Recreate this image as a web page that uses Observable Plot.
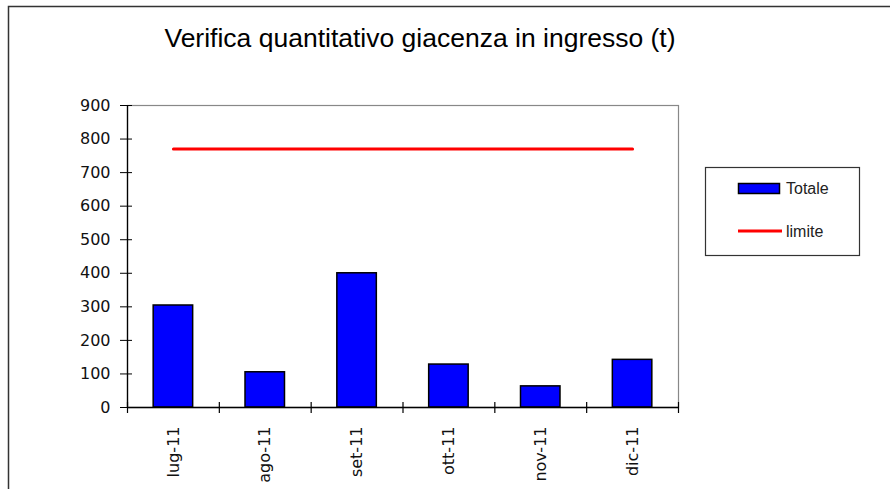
<!DOCTYPE html>
<html>
<head>
<meta charset="utf-8">
<script src="https://cdn.jsdelivr.net/npm/d3@7"></script>
<script src="https://cdn.jsdelivr.net/npm/@observablehq/plot@0.6"></script>
<style>
  html, body { margin: 0; padding: 0; background: #fff; }
  svg { display: block; }
</style>
</head>
<body>
<div id="chart"></div>
<script>
const months = ["lug-11", "ago-11", "set-11", "ott-11", "nov-11", "dic-11"];
const totale = [304, 105, 400, 128, 63, 142];
const limite = [770, 770, 770, 770, 770, 770];
const yTicks = [0, 100, 200, 300, 400, 500, 600, 700, 800, 900];
const titleText = "Verifica quantitativo giacenza in ingresso (t)";
const legendLabels = ["Totale", "limite"];

const W = 890, H = 489;
const ML = 127, MR = 212, MT = 105, MB = 82;
const step = (W - ML - MR) / months.length;

const data = months.map((m, i) => ({ month: m, totale: totale[i], limite: limite[i] }));

const chart = Plot.plot({
  width: W,
  height: H,
  marginLeft: ML,
  marginRight: MR,
  marginTop: MT,
  marginBottom: MB,
  style: { fontFamily: "DejaVu Sans", fontSize: "16px", color: "#111", background: "white", overflow: "visible" },
  x: { type: "band", domain: months, paddingInner: 0.57, paddingOuter: 0.285, round: false, label: null },
  y: { domain: [0, 900], label: null },
  marks: [
    Plot.frame({ stroke: "#888", strokeWidth: 1.2 }),
    Plot.barY(data, { x: "month", y: "totale", fill: "#0000ff", stroke: "black", strokeWidth: 1.5 }),
    Plot.lineY(data, { x: "month", y: "limite", stroke: "#ff0000", strokeWidth: 3 }),
    Plot.ruleY([0], { stroke: "black", strokeWidth: 1.3 }),
    Plot.ruleX([months[0]], { dx: -step / 2, stroke: "black", strokeWidth: 1.3 }),
    Plot.ruleX(months, { dx: -step / 2, y1: 0, y2: 0, insetTop: -5, insetBottom: -6, stroke: "black", strokeWidth: 1.2 }),
    Plot.ruleX([months[months.length - 1]], { dx: step / 2, y1: 0, y2: 0, insetTop: -5, insetBottom: -6, stroke: "black", strokeWidth: 1.2 }),
    Plot.axisY({ ticks: yTicks, tickSize: 12, dx: 5, tickPadding: 10, label: null, stroke: "black" }),
    Plot.axisX({ tickSize: 0, tickRotate: -90, tickPadding: 19, label: null })
  ]
});

document.getElementById("chart").appendChild(chart);

const svg = d3.select(chart);

// outer chart-area border
svg.append("rect")
  .attr("x", 8.5).attr("y", 6.5)
  .attr("width", 900).attr("height", 500)
  .attr("fill", "none").attr("stroke", "#333").attr("stroke-width", 1.5);

// title
svg.append("text")
  .attr("x", 420).attr("y", 47)
  .attr("text-anchor", "middle")
  .attr("font-family", "Liberation Sans, Arial, sans-serif")
  .attr("font-size", 26.5)
  .attr("fill", "black")
  .text(titleText);

// legend
const lg = svg.append("g");
lg.append("rect")
  .attr("x", 705.5).attr("y", 167.5).attr("width", 154).attr("height", 88)
  .attr("fill", "white").attr("stroke", "#333").attr("stroke-width", 1.2);
lg.append("rect")
  .attr("x", 738.5).attr("y", 183.5).attr("width", 41).attr("height", 10)
  .attr("fill", "#0000ff").attr("stroke", "black").attr("stroke-width", 1.5);
lg.append("line")
  .attr("x1", 738).attr("x2", 782).attr("y1", 231).attr("y2", 231)
  .attr("stroke", "#ff0000").attr("stroke-width", 3);
lg.selectAll("text.lbl").data(legendLabels).join("text")
  .attr("class", "lbl")
  .attr("x", 786)
  .attr("y", (d, i) => i === 0 ? 194 : 237)
  .attr("text-anchor", "start")
  .attr("font-family", "Liberation Sans, Arial, sans-serif")
  .attr("font-size", 16)
  .attr("fill", "#222")
  .text(d => d);
</script>
</body>
</html>
